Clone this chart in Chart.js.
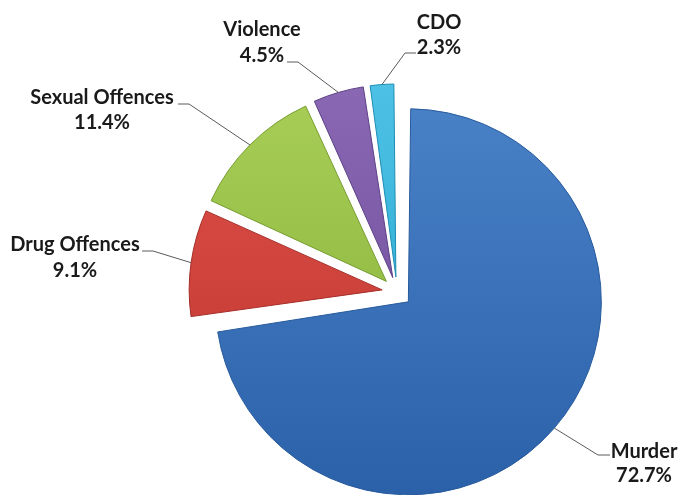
<!DOCTYPE html>
<html>
<head>
<meta charset="utf-8">
<script src="https://cdn.jsdelivr.net/npm/chart.js@4.4.0/dist/chart.umd.min.js"></script>
<style>
  html, body { margin: 0; padding: 0; background: #fff; overflow: hidden; }
  #wrap { position: absolute; left: 0; top: 0; width: 682px; height: 530px; }
</style>
</head>
<body>
<div id="wrap"><canvas id="pie"></canvas></div>
<script>
// Data
const categories = ['Murder', 'Drug Offences', 'Sexual Offences', 'Violence', 'CDO'];
const shares = [72.7, 9.1, 11.4, 4.5, 2.3];

// colours (top / bottom of the shaded fill, rim)
const topColors = ['#4a82c8', '#e0524a', '#aacf58', '#8b69b5', '#50c3e6'];
const bottomColors = ['#2a60a8', '#bb332d', '#84b038', '#6a4996', '#21a2cd'];
const rimColors = ['#275a9c', '#a52d28', '#769d32', '#5c4085', '#1d8db3'];

// where each label sits: elbow of the leader, end of the short tail, text centre, baselines
const labelLayout = [
    { elbow: [598, 455], tail: 610, cx: 644, base: [458, 482] },
    { elbow: [153, 251], tail: 142, cx: 75, base: [251, 277] },
    { elbow: [189, 104], tail: 178, cx: 102, base: [104, 129] },
    { elbow: [298, 62], tail: 287, cx: 262, base: [36, 62] },
    { elbow: [405, 53], tail: 416, cx: 439, base: [29, 54] }
];

// Chart.js grows the outer radius of offset slices a bit; keep them all even
const evenRadius = {
    id: 'evenRadius',
    afterDatasetsUpdate(chart) {
        chart.getDatasetMeta(0).data.forEach(arc => {
            const t = (arc.options.offset || 0) / 4;
            const fix = 1 - Math.sin(Math.min(Math.PI, arc.circumference));
            arc.outerRadius -= t * fix;
        });
    }
};

const sliceLabels = {
    id: 'sliceLabels',
    afterDatasetsDraw(chart) {
        const ctx = chart.ctx;
        const meta = chart.getDatasetMeta(0);
        ctx.save();
        meta.data.forEach((arc, i) => {
            const lay = labelLayout[i];
            const mid = (arc.startAngle + arc.endAngle) / 2;
            const t = (arc.options.offset || 0) / 4;
            const fix = 1 - Math.sin(Math.min(Math.PI, arc.circumference));
            const r = arc.outerRadius + t * fix;
            const x0 = arc.x + Math.cos(mid) * (t + r);
            const y0 = arc.y + Math.sin(mid) * (t + r);

            ctx.strokeStyle = '#5a5a5a';
            ctx.lineWidth = 1;
            ctx.beginPath();
            ctx.moveTo(x0, y0);
            ctx.lineTo(lay.elbow[0], lay.elbow[1]);
            ctx.lineTo(lay.tail, lay.elbow[1]);
            ctx.stroke();

            ctx.fillStyle = '#1a1a1a';
            ctx.font = 'bold 20px Lato, "Open Sans", sans-serif';
            ctx.textAlign = 'center';
            ctx.textBaseline = 'alphabetic';
            ctx.fillText(categories[i], lay.cx, lay.base[0]);
            ctx.fillText(shares[i].toFixed(1) + '%', lay.cx, lay.base[1]);
        });
        ctx.restore();
    }
};

function shadedFill(context) {
    const chart = context.chart;
    const i = context.dataIndex;
    const area = chart.chartArea;
    if (!area) return topColors[i];
    const g = chart.ctx.createLinearGradient(0, 80, 0, 495);
    g.addColorStop(0, topColors[i]);
    g.addColorStop(1, bottomColors[i]);
    return g;
}

new Chart(document.getElementById('pie'), {
    type: 'pie',
    data: {
        labels: categories,
        datasets: [{
            data: shares,
            backgroundColor: shadedFill,
            borderColor: rimColors,
            borderWidth: 1,
            hoverBorderWidth: 1,
            offset: 60,
            hoverOffset: 0
        }]
    },
    options: {
        responsive: true,
        maintainAspectRatio: false,
        animation: false,
        events: [],
        layout: { padding: { top: 68.5, bottom: 14.5, left: 173.5, right: 61.5 } },
        plugins: {
            legend: { display: false },
            tooltip: { enabled: false }
        }
    },
    plugins: [evenRadius, sliceLabels]
});
</script>
</body>
</html>
